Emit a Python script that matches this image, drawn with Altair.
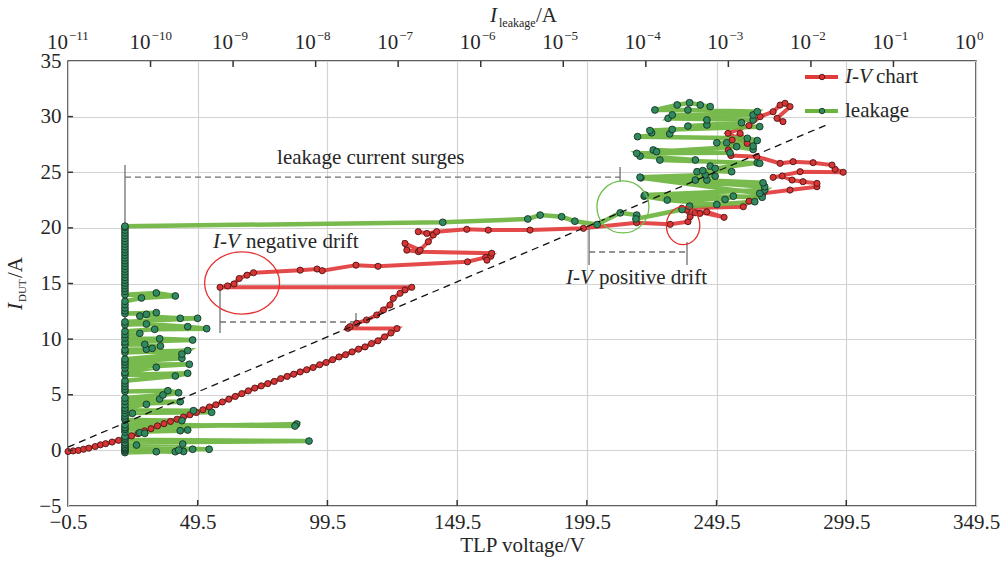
import altair as alt
import pandas as pd

FONT = "Liberation Serif"
TXT = "#262626"

# ---------------- data ----------------
# I-V chart: (TLP voltage V, DUT current A), in measurement order
iv_rise = [(-0.5, -0.1), (1.5, -0.05), (3.5, 0.0), (5.5, 0.1), (7.5, 0.2), (10, 0.35), (12, 0.5), (14, 0.6),
           (16.5, 0.75), (19, 0.9), (21.5, 1.1), (24, 1.3), (26.5, 1.5), (29, 1.75), (31.5, 1.95), (34, 2.2),
           (36.5, 2.4), (39, 2.6), (41.5, 2.8), (44, 3.0), (46.5, 3.2), (49, 3.4), (51.5, 3.65), (54, 3.9),
           (56.5, 4.1), (59, 4.35), (61.5, 4.6), (64, 4.85), (66.5, 5.1), (69, 5.35), (71.5, 5.6), (74, 5.8),
           (76.5, 6.0), (79, 6.2), (81.5, 6.45), (84, 6.65), (86.5, 6.85), (89, 7.05), (91.5, 7.25), (94, 7.45),
           (96.5, 7.7), (99, 7.9), (101.5, 8.15), (104, 8.4), (106.5, 8.6), (109, 8.85), (111.5, 9.1), (114, 9.3),
           (116.5, 9.6), (119, 9.85), (121.5, 10.2), (124, 10.55), (126.3, 10.95)]
iv_drift = [(107.4, 10.97), (108.2, 11.12), (110.8, 11.42), (114.6, 11.72), (118.5, 12.17), (121.1, 12.62),
            (123.6, 13.07), (124.9, 13.67), (127.5, 14.12), (129.4, 14.42), (132.0, 14.66),
            (58.1, 14.66), (61, 14.78), (63.5, 14.96), (65.5, 15.45), (68.5, 15.75), (71, 15.97),
            (89, 16.2), (95.5, 16.3), (97.5, 16.15), (110.5, 16.65), (119, 16.55), (153.5, 16.95),
            (160.5, 17.35), (162.5, 17.45), (161, 17.1), (162.8, 17.72),
            (134.6, 17.86), (130.1, 18.0), (129.4, 18.6), (135.2, 18.0), (138.4, 18.76), (140.3, 19.36),
            (134.5, 19.66), (137.8, 19.5), (141.6, 19.66),
            (153.2, 19.87), (161.5, 19.8), (177.6, 19.8), (198.2, 19.96), (218.7, 20.47), (231.6, 20.32),
            (238.5, 20.56), (239.3, 21.0), (238, 21.6), (241.2, 21.36), (243.1, 21.3), (245.7, 21.45),
            (252.4, 20.95), (236.1, 21.76), (259.8, 21.9)]
iv_upper = [(262, 22.4), (267.4, 23.1), (277.8, 23.4), (288.2, 23.7), (288.2, 24.0), (282.8, 24.15),
            (278.6, 24.3), (274.8, 24.66), (271.3, 24.54), (281.7, 25.05), (298.3, 25.0), (295.2, 25.26),
            (294, 25.65), (286.7, 25.86), (279, 25.95), (274, 25.8), (265, 26.4), (255, 26.5), (254, 27.0),
            (255.5, 27.9), (258.6, 28.5), (261.3, 27.6), (253.9, 28.5), (262, 29.2), (266.3, 30.0),
            (271.3, 30.44), (274, 31.04), (275.9, 31.2), (277.8, 30.9), (272.8, 29.85), (275.1, 29.55)]

# leakage: (log10 of leakage current in A, DUT current A), in measurement order
leak_lower = [(-10.31, -0.2), (-9.93, -0.12), (-10.31, -0.05), (-9.70, -0.12), (-10.31, 0.05), (-9.60, -0.1),
              (-9.66, 0.03), (-10.31, 0.15), (-9.49, 0.1), (-9.29, 0.1), (-10.31, 0.25), (-10.31, 0.4),
              (-10.17, 0.48), (-10.31, 0.55), (-9.61, 0.57), (-10.31, 0.7), (-8.08, 0.84), (-10.31, 0.95),
              (-10.31, 1.1), (-10.31, 1.25), (-10.13, 1.59), (-10.07, 1.53), (-10.31, 1.65), (-9.64, 1.77),
              (-9.55, 1.83), (-10.31, 1.9), (-10.31, 2.05), (-8.23, 2.37), (-8.25, 2.19), (-10.31, 2.3),
              (-9.62, 2.67), (-10.31, 2.75), (-10.31, 2.9), (-10.31, 3.1), (-10.22, 3.33), (-10.31, 3.35),
              (-9.26, 3.42), (-9.48, 3.57), (-10.31, 3.6), (-10.31, 3.8), (-10.05, 4.14), (-10.31, 4.1),
              (-9.64, 4.38), (-10.31, 4.4), (-9.89, 4.62), (-10.31, 4.7), (-9.85, 4.98), (-9.66, 5.18),
              (-9.79, 5.36), (-10.31, 5.3), (-10.31, 5.5), (-10.31, 5.75), (-10.31, 6.0), (-10.31, 6.25),
              (-9.70, 6.69), (-9.55, 6.93), (-10.31, 6.8), (-10.31, 7.0), (-9.93, 7.47), (-10.31, 7.4),
              (-9.53, 7.74), (-10.31, 7.7), (-10.31, 7.95), (-9.62, 8.28), (-10.31, 8.2), (-9.62, 8.66),
              (-9.55, 8.97), (-10.31, 8.8), (-10.31, 9.05), (-10.05, 9.09), (-9.98, 9.17), (-9.88, 9.38),
              (-10.07, 9.53), (-10.31, 9.5), (-10.31, 9.75), (-9.49, 9.92), (-9.89, 10.04), (-10.31, 10.1),
              (-10.13, 10.52), (-10.31, 10.4), (-10.31, 10.7), (-9.95, 10.88), (-9.32, 10.94), (-9.55, 11.12),
              (-10.05, 11.36), (-10.31, 11.3), (-10.31, 11.55), (-9.43, 11.87), (-9.64, 11.87), (-10.13, 12.08),
              (-10.05, 12.23), (-9.93, 12.38), (-10.31, 12.3), (-10.31, 12.55), (-10.31, 12.8), (-10.31, 13.1),
              (-10.31, 13.4), (-10.11, 13.7), (-9.70, 13.88), (-9.93, 14.15), (-10.31, 14.0), (-10.31, 14.3),
              (-10.31, 14.55), (-10.31, 14.8), (-10.31, 15.05), (-10.31, 15.3), (-10.31, 15.55), (-10.31, 15.8),
              (-10.31, 16.05), (-10.31, 16.3), (-10.31, 16.55), (-10.31, 16.8), (-10.31, 17.05), (-10.31, 17.3),
              (-10.31, 17.55), (-10.31, 17.8), (-10.31, 18.05), (-10.31, 18.3), (-10.31, 18.55), (-10.31, 18.8),
              (-10.31, 19.05), (-10.31, 19.3), (-10.31, 19.55), (-10.31, 19.8), (-10.31, 20.05), (-10.31, 20.15)]
leak_upper = [(-6.46, 20.5), (-5.43, 20.8), (-5.28, 21.15), (-5.02, 21.0), (-4.86, 20.6), (-4.59, 20.3),
              (-4.31, 21.35), (-4.11, 21.15), (-4.12, 20.8), (-3.56, 21.65), (-3.47, 21.95), (-2.68, 22.35),
              (-3.14, 22.1), (-3.74, 22.5), (-4.02, 22.85), (-3.04, 22.55), (-2.94, 22.85), (-2.59, 22.75),
              (-4.01, 22.95), (-2.56, 23.4), (-2.62, 23.1), (-4.06, 24.5), (-2.56, 23.7), (-2.58, 24.05),
              (-3.40, 24.3), (-3.26, 24.3), (-4.07, 24.55), (-3.28, 24.75), (-3.16, 24.65), (-3.38, 25.05),
              (-3.31, 25.15), (-2.96, 25.05), (-3.22, 25.55), (-3.16, 25.35), (-2.65, 25.85), (-2.62, 25.8),
              (-3.83, 26.1), (-3.40, 26.1), (-4.07, 26.45), (-4.11, 26.7), (-2.98, 26.75), (-3.91, 27.0),
              (-3.87, 26.85), (-2.90, 27.3), (-2.70, 27.05), (-2.70, 27.35), (-3.14, 27.65), (-3.02, 27.65),
              (-2.65, 27.85), (-2.77, 28.05), (-4.10, 28.2), (-3.71, 28.45), (-3.93, 28.55), (-3.95, 28.75),
              (-3.68, 28.85), (-2.62, 29.1), (-3.49, 29.15), (-3.26, 29.25), (-2.84, 29.45), (-3.26, 29.7),
              (-2.70, 29.7), (-3.73, 29.85), (-3.68, 30.15), (-2.70, 30.15), (-2.65, 30.45), (-3.49, 30.6),
              (-3.89, 30.6), (-3.62, 31.05), (-3.47, 31.25), (-3.34, 31.05), (-3.22, 30.9)]

# axes
bottom_ticks = [-0.5, 49.5, 99.5, 149.5, 199.5, 249.5, 299.5, 349.5]
left_ticks = [-5, 0, 5, 10, 15, 20, 25, 30, 35]
top_exps = list(range(-11, 1))

# annotations (data coordinates: V, A)
diag_line = [(-0.5, 0.3), (293.3, 29.4)]
surge_guides = [  # (V1, A1, V2, A2, dashed)
    (21.47, -0.42, 21.47, 25.65, 0), (21.47, 24.57, 212.3, 24.57, 1), (212.3, 25.47, 212.3, 24.12, 0),
    (58.1, 14.69, 58.1, 10.55, 0), (58.1, 11.54, 110.5, 11.54, 1), (110.5, 12.35, 110.5, 11.54, 0),
    (200.35, 19.99, 200.35, 16.66, 0), (200.35, 17.83, 238.1, 17.83, 1), (238.1, 18.73, 238.1, 16.66, 0)]

# ---------------- frames ----------------
iv_all = iv_rise + iv_drift + iv_upper
iv = pd.DataFrame({"idx": range(len(iv_all)), "V": [p[0] for p in iv_all], "I": [p[1] for p in iv_all]})
lk_all = leak_lower + leak_upper
lk = pd.DataFrame({"idx": range(len(lk_all)), "L": [10 ** p[0] for p in lk_all], "I": [p[1] for p in lk_all]})

xV = alt.Scale(domain=[-0.5, 349.5], nice=False, zero=False)
xL = alt.Scale(type="log", domain=[1e-11, 1], nice=False)
yS = alt.Scale(domain=[-5, 35], nice=False, zero=False)

y_axis = alt.Axis(values=left_ticks, grid=True, gridColor="#d2d2d2", gridWidth=1.2, ticks=False, domain=False,
                  labelFont=FONT, labelFontSize=21, labelColor=TXT, labelPadding=7, title=None,
                  labelFlush=False, labelOverlap=False)
x_axis = alt.Axis(values=bottom_ticks, format=".1f", grid=True, gridColor="#d2d2d2", gridWidth=1.2, ticks=False,
                  domain=False, labelFont=FONT, labelFontSize=21, labelColor=TXT, labelPadding=5,
                  labelFlush=False, labelOverlap=False, title="TLP voltage/V", titleFont=FONT,
                  titleFontSize=21, titleFontWeight="normal", titleColor=TXT, titlePadding=2)


def XV(f, axis=None):
    return alt.X(f, type="quantitative", scale=xV, axis=axis)


def XL(f):
    return alt.X(f, type="quantitative", scale=xL, axis=None)


def Y(f):
    return alt.Y(f, type="quantitative", scale=yS, axis=y_axis)


RED_LINE = "#e23b3b"
GREEN_LINE = "#6cb43f"

# guides
gd = pd.DataFrame(surge_guides, columns=["V1", "A1", "V2", "A2", "dash"])
guides_solid = alt.Chart(gd[gd.dash == 0]).mark_rule(color="#707070", strokeWidth=1.3).encode(
    x=XV("V1"), x2="V2", y=Y("A1"), y2="A2")
guides_dash = alt.Chart(gd[gd.dash == 1]).mark_rule(color="#707070", strokeWidth=1.3, strokeDash=[6, 4]).encode(
    x=XV("V1"), x2="V2", y=Y("A1"), y2="A2")

red_line = alt.Chart(iv).mark_line(color=RED_LINE, strokeWidth=4, opacity=0.92).encode(
    x=XV("V", x_axis), y=Y("I"), order="idx:Q")
green_line = alt.Chart(lk).mark_line(color=GREEN_LINE, strokeWidth=4.5, opacity=0.92).encode(
    x=XL("L"), y=Y("I"), order="idx:Q")
red_pts = alt.Chart(iv).mark_point(filled=True, fill="#d93434", stroke="#4a1616", strokeWidth=0.9,
                                   size=38, opacity=1).encode(x=XV("V"), y=Y("I"))
green_pts = alt.Chart(lk).mark_point(filled=True, fill="#2f8a60", stroke="#1a3325", strokeWidth=0.9,
                                     size=46, opacity=1).encode(x=XL("L"), y=Y("I"))

dd = pd.DataFrame({"V": [p[0] for p in diag_line], "A": [p[1] for p in diag_line]})
diag = alt.Chart(dd).mark_line(color="#111111", strokeWidth=1.3, strokeDash=[7, 5]).encode(x=XV("V"), y=Y("A"))

# circles / ellipses
ell_red_big = alt.Chart(pd.DataFrame({"V": [66.6], "A": [15.04]})).mark_point(
    shape="M -1 0 A 1 0.83 0 1 1 1 0 A 1 0.83 0 1 1 -1 0 Z", size=5625, filled=False,
    stroke="#e53030", strokeWidth=1.3, opacity=1).encode(x=XV("V"), y=Y("A"))
circ_green = alt.Chart(pd.DataFrame({"V": [213.4], "A": [21.88]})).mark_point(
    shape="circle", size=2704, filled=False, stroke="#6cc04a", strokeWidth=1.3, opacity=1).encode(
    x=XV("V"), y=Y("A"))
ell_red_small = alt.Chart(pd.DataFrame({"V": [236.6], "A": [20.2]})).mark_point(
    shape="M -1 0 A 1 1.14 0 1 1 1 0 A 1 1.14 0 1 1 -1 0 Z", size=1115, filled=False,
    stroke="#e53030", strokeWidth=1.3, opacity=1).encode(x=XV("V"), y=Y("A"))

# annotation texts
ann = pd.DataFrame({"V": [80.1, 55.4, 191.5], "A": [26.28, 18.76, 15.47],
                    "it": ["", "I-V", "I-V"], "rest": ["leakage current surges", "negative drift", "positive drift"],
                    "dx": [0, 33, 33]})
ann_it = alt.Chart(ann[ann.it != ""]).mark_text(font=FONT, fontSize=21, fontStyle="italic", align="left",
                                                baseline="middle", color=TXT).encode(
    x=XV("V"), y=Y("A"), text="it:N")
ann_rest0 = alt.Chart(ann[ann.dx == 0]).mark_text(font=FONT, fontSize=21, align="left", baseline="middle",
                                                  color=TXT).encode(x=XV("V"), y=Y("A"), text="rest:N")
ann_rest1 = alt.Chart(ann[ann.dx == 33]).mark_text(font=FONT, fontSize=21, align="left", baseline="middle",
                                                   color=TXT, dx=33).encode(x=XV("V"), y=Y("A"), text="rest:N")

# ticks (inward)
bt = pd.DataFrame({"V": bottom_ticks[1:-1]})
bottom_tk = alt.Chart(bt).mark_rule(color="#333333", strokeWidth=1.5).encode(
    x=XV("V"), y=alt.value(445), y2=alt.value(439))
lt = pd.DataFrame({"A": left_ticks[1:-1]})
left_tk = alt.Chart(lt).mark_rule(color="#333333", strokeWidth=1.5).encode(
    y=Y("A"), x=alt.value(0), x2=alt.value(5))
tt = pd.DataFrame({"L": [10.0 ** e for e in top_exps],
                   "exp": [("\u2212" + str(-e)) if e < 0 else "0" for e in top_exps]})
top_tk = alt.Chart(tt.iloc[1:-1]).mark_rule(color="#333333", strokeWidth=1.5).encode(
    x=XL("L"), y=alt.value(0), y2=alt.value(6))
top_base = alt.Chart(tt).mark_text(font=FONT, fontSize=21, align="right", baseline="middle", color=TXT,
                                   text="10").encode(x=XL("L"), y=alt.value(-18))
top_exp = alt.Chart(tt).mark_text(font=FONT, fontSize=13, align="left", baseline="middle", color=TXT,
                                  dx=1).encode(x=XL("L"), y=alt.value(-25), text="exp:N")

# axis titles with sub-scripts
one = pd.DataFrame({"a": [0]})
tI = alt.Chart(one).mark_text(font=FONT, fontSize=21, fontStyle="italic", align="left", baseline="alphabetic",
                              color=TXT, text="I").encode(x=alt.value(422), y=alt.value(-39))
tsub = alt.Chart(one).mark_text(font=FONT, fontSize=12, align="left", baseline="alphabetic",
                                color=TXT, text="leakage").encode(x=alt.value(431), y=alt.value(-34))
tA = alt.Chart(one).mark_text(font=FONT, fontSize=21, align="left", baseline="alphabetic",
                              color=TXT, text="/A").encode(x=alt.value(468), y=alt.value(-39))
yI = alt.Chart(one).mark_text(font=FONT, fontSize=21, fontStyle="italic", align="left", baseline="alphabetic",
                              color=TXT, text="I", angle=270).encode(x=alt.value(-46), y=alt.value(249))
ysub = alt.Chart(one).mark_text(font=FONT, fontSize=11, align="left", baseline="alphabetic",
                                color=TXT, text="DUT", angle=270).encode(x=alt.value(-42), y=alt.value(241))
yA = alt.Chart(one).mark_text(font=FONT, fontSize=21, align="left", baseline="alphabetic",
                              color=TXT, text="/A", angle=270).encode(x=alt.value(-46), y=alt.value(217))

# legend
leg = []
for yy, lc, pf, ps in [(16, RED_LINE, "#d93434", "#4a1616"), (50, GREEN_LINE, "#2f8a60", "#1a3325")]:
    leg.append(alt.Chart(one).mark_rule(color=lc, strokeWidth=4).encode(
        x=alt.value(737), x2=alt.value(770), y=alt.value(yy)))
    leg.append(alt.Chart(one).mark_point(filled=True, fill=pf, stroke=ps, strokeWidth=0.9, size=30,
                                         opacity=1).encode(x=alt.value(754), y=alt.value(yy)))
leg.append(alt.Chart(one).mark_text(font=FONT, fontSize=21, fontStyle="italic", align="left", baseline="middle",
                                    color=TXT, text="I-V").encode(x=alt.value(777), y=alt.value(16)))
leg.append(alt.Chart(one).mark_text(font=FONT, fontSize=21, align="left", baseline="middle",
                                    color=TXT, text="chart").encode(x=alt.value(808), y=alt.value(16)))
leg.append(alt.Chart(one).mark_text(font=FONT, fontSize=21, align="left", baseline="middle",
                                    color=TXT, text="leakage").encode(x=alt.value(777), y=alt.value(50)))

chart = alt.layer(
    red_line, guides_solid, guides_dash, green_line, red_pts, green_pts, diag,
    ell_red_big, circ_green, ell_red_small, ann_it, ann_rest0, ann_rest1,
    bottom_tk, left_tk, top_tk, top_base, top_exp, tI, tsub, tA, yI, ysub, yA, *leg
).resolve_scale(x="independent").properties(
    width=908, height=445,
    autosize=alt.AutoSizeParams(type="none"),
    padding={"left": 68, "top": 61, "right": 27, "bottom": 56},
    background="white",
).configure_view(stroke="#2b2b2b", strokeWidth=1.5)

chart.save("out.html", embed_options={"renderer": "svg", "actions": False})
